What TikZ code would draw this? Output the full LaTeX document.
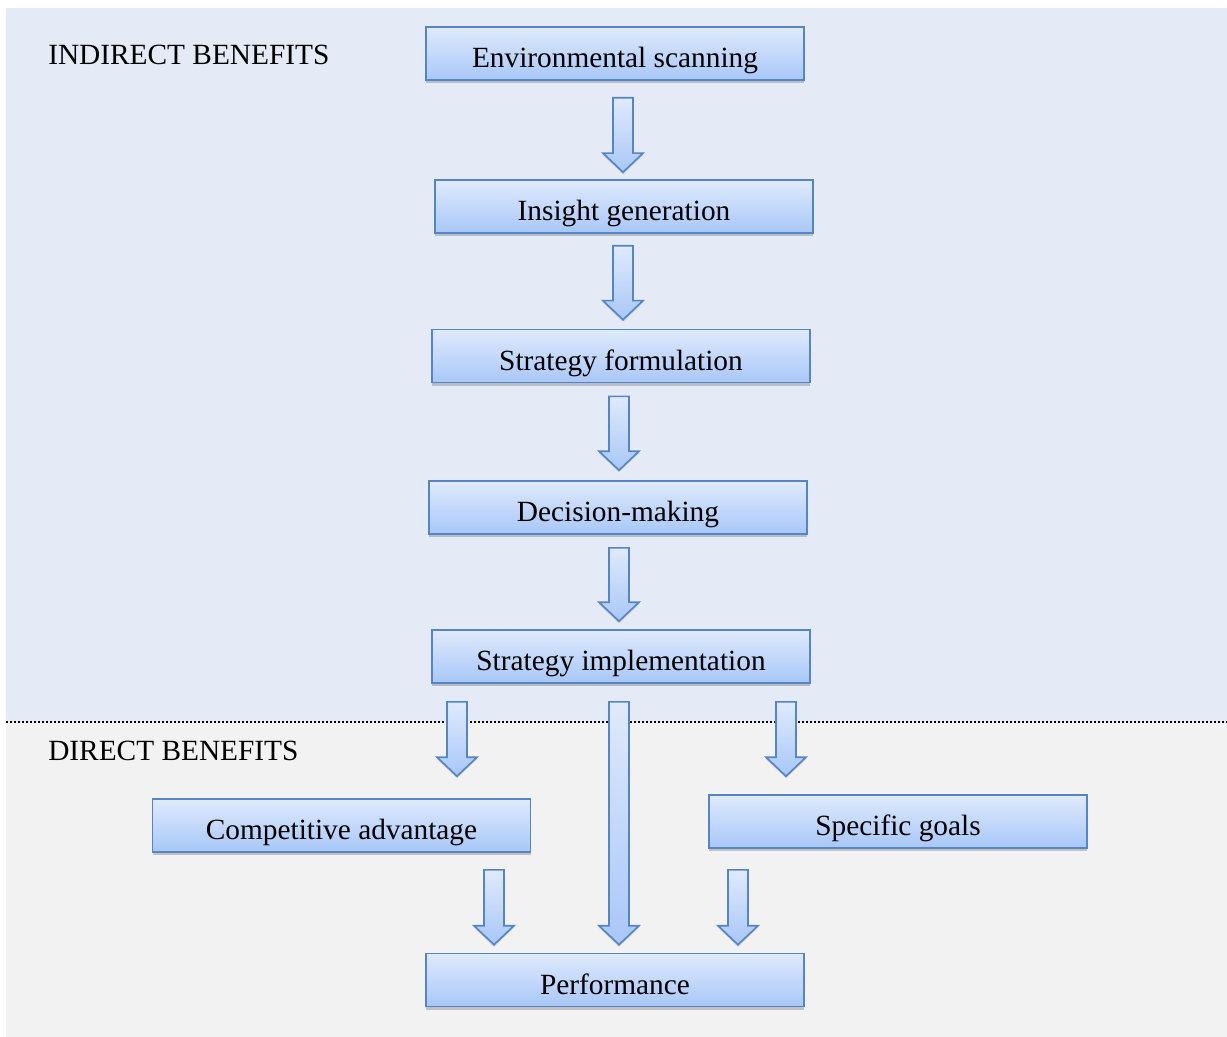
\documentclass[tikz,border=0pt]{standalone}
\usepackage{fontspec}
\setmainfont{Liberation Serif}
\usetikzlibrary{calc,shadows}
\definecolor{bgblue}{HTML}{E4EBF7}
\definecolor{bggray}{HTML}{F2F2F2}
\definecolor{boxtop}{HTML}{DFEAFC}
\definecolor{boxbot}{HTML}{A8C7F8}
\definecolor{boxline}{HTML}{5585C2}
\tikzset{
  box/.style={draw=boxline, line width=1.2pt, top color=boxtop, bottom color=boxbot,
    minimum width=283.5pt, minimum height=39.75pt, inner sep=0pt,
    text height=21.5pt, text depth=0pt,
    font=\fontsize{22}{26}\selectfont,
    drop shadow={shadow xshift=0pt, shadow yshift=-2.5pt, opacity=0.35, fill=black!60}},
  lab/.style={anchor=base west, inner sep=0pt, font=\fontsize{22}{26}\selectfont},
  barr/.style={draw=boxline, line width=1.2pt, top color=boxtop, bottom color=boxbot,
    line join=miter,
    drop shadow={shadow xshift=0pt, shadow yshift=-1.5pt, opacity=0.25, fill=black!60}}
}
\newcommand\barrow[2]{%
  \path[barr] let \p1=#1, \p2=#2 in
    ({\x1-7.5pt},{\y1}) -- ({\x1+7.5pt},{\y1}) -- ({\x1+7.5pt},{\y2+14.25pt})
    -- ({\x1+15pt},{\y2+14.25pt}) -- ({\x1},{\y2}) -- ({\x1-15pt},{\y2+14.25pt})
    -- ({\x1-7.5pt},{\y2+14.25pt}) -- cycle;}
\begin{document}
\begin{tikzpicture}[x=0.75pt,y=-0.75pt]
\useasboundingbox[fill=white] (0,0) rectangle (1227,1037);
\fill[bgblue] (6,8) rectangle (1227,722);
\fill[bggray] (6,722) rectangle (1227,1037);
\coordinate (dl) at (6,722);
\coordinate (dr) at (1227,722);
\draw[black, line width=1.3pt, dash pattern=on 1.5pt off 1.5pt] (dl) -- (dr);

\node[lab] (indirect) at (48,65) {INDIRECT BENEFITS};
\node[lab] (direct) at (48,760) {DIRECT BENEFITS};

\node[box] (env) at (615,53.5) {Environmental scanning};
\node[box] (ins) at (624,206.5) {Insight generation};
\node[box] (str) at (621,356) {Strategy formulation};
\node[box] (dec) at (618,507.5) {Decision-making};
\node[box] (imp) at (621,656.5) {Strategy implementation};
\node[box] (comp) at (341.5,825.5) {Competitive advantage};
\node[box] (goals) at (898,821.5) {Specific goals};
\node[box] (perf) at (615,980) {Performance};

\barrow{($(env.south)+(8,17)$)}{($(ins.north)+(-1,-7)$)}
\barrow{($(ins.south)+(-1,12)$)}{($(str.north)+(2,-9)$)}
\barrow{($(str.south)+(-2,13)$)}{($(dec.north)+(1,-10)$)}
\barrow{($(dec.south)+(1,13)$)}{($(imp.north)+(-2,-8)$)}
\barrow{($(imp.south)+(-164,18)$)}{($(comp.north)+(115.5,-22)$)}
\barrow{($(imp.south)+(-2,18)$)}{($(perf.north)+(4,-8)$)}
\barrow{($(imp.south)+(165,18)$)}{($(goals.north)+(-112,-18)$)}
\barrow{($(comp.south)+(152.5,17)$)}{($(perf.north)+(-121,-8)$)}
\barrow{($(goals.south)+(-160,21)$)}{($(perf.north)+(123,-8)$)}
\end{tikzpicture}
\end{document}
